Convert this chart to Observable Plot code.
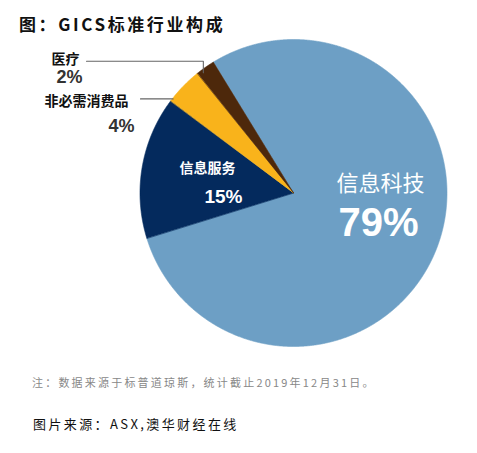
<!DOCTYPE html>
<html><head><meta charset="utf-8">
<script src="https://cdn.jsdelivr.net/npm/d3@7"></script>
<script src="https://cdn.jsdelivr.net/npm/@observablehq/plot@0.6"></script>
<style>
body{margin:0;background:#fff;width:477px;height:453px;position:relative;overflow:hidden;font-family:"Noto Sans CJK SC",sans-serif}
#title{position:absolute;left:19px;top:15px;font-size:17px;line-height:1;font-weight:700;letter-spacing:2.6px;color:#111}
#chart{position:absolute;left:0;top:35px}
#note{position:absolute;left:32px;top:377px;font-size:11px;line-height:1;color:#888;letter-spacing:2.2px}
#src{position:absolute;left:33px;top:417px;font-size:13px;line-height:1;color:#111;letter-spacing:2.4px}
g[aria-label="cjk-big"] text{letter-spacing:3px}
g[aria-label="cjk-in"] text{letter-spacing:2.7px}
g[aria-label="cjk-out"] text{letter-spacing:3.2px}
</style></head><body>
<div id="title">图：GICS标准行业构成</div>
<div id="chart"></div>
<div id="note">注：数据来源于标普道琼斯，统计截止2019年12月31日。</div>
<div id="src">图片来源：ASX,澳华财经在线</div>
<script>
// ---- data ----
const categories = ["信息科技", "信息服务", "非必需消费品", "医疗"];
const shares = [79, 15, 4, 2];
const pctLabels = ["79%", "15%", "4%", "2%"];
const colors = ["#6d9fc5", "#042a5d", "#f9b31b", "#4d280b"];

// ---- layout (not data) ----
const W = 477, H = 325;
const R = 153.5;               // pie radius in scale units (1 unit = 1px)
const START = -31.5;           // start angle (deg, clockwise from north)
const namePos = [[86.5, 10], [-86.5, 25], [-207.5, 92], [-228.5, 134]];
const pctPos = [[84.5, -29.5], [-70.5, -3], [-172.5, 67], [-224.5, 116]];
const leaderLevel = 132.3;

const total = d3.sum(shares);
let acc = 0;
const slices = categories.map((name, i) => {
  const a0 = START + acc / total * 360;
  acc += shares[i];
  const a1 = START + acc / total * 360;
  return {name, a0, a1, i};
});
const rad = a => a * Math.PI / 180;
const polar = (a, r) => ({x: r * Math.sin(rad(a)), y: r * Math.cos(rad(a))});

const arcPts = [];
for (const s of slices) {
  const n = Math.max(2, Math.ceil((s.a1 - s.a0) / 0.25));
  for (let k = 0; k <= n; k++) {
    const p = polar(s.a0 + (s.a1 - s.a0) * k / n, R);
    arcPts.push({name: s.name, x: p.x, y: p.y});
  }
}

// leader lines for the two small outside slices
const leaders = [];
{
  const s = slices[3];              // 医疗
  const p = polar(s.a0 + (s.a1 - s.a0) * 0.25, R - 2.5);
  leaders.push({k: 0, x: p.x, y: p.y}, {k: 0, x: p.x, y: leaderLevel}, {k: 0, x: namePos[3][0] + 21, y: leaderLevel});
}
{
  const s = slices[2];              // 非必需消费品
  const p = polar(s.a0 + (s.a1 - s.a0) * 0.08, R);
  leaders.push({k: 1, x: p.x, y: p.y}, {k: 1, x: namePos[2][0] + 54, y: p.y});
}

const lbl = (idx) => idx.map(i => ({name: categories[i], pct: pctLabels[i],
  nx: namePos[i][0], ny: namePos[i][1], px: pctPos[i][0], py: pctPos[i][1]}));

const sansCJK = "Noto Sans CJK SC";
const latin = "Liberation Sans, Arial, sans-serif";

const plot = Plot.plot({
  width: W, height: H,
  margin: 0,
  x: {domain: [-293.5, W - 293.5], axis: null},
  y: {domain: [-(H - 158), 158], axis: null},
  color: {domain: categories, range: colors},
  style: {background: "transparent"},
  marks: [
    Plot.area(arcPts, {x1: "x", y1: "y", x2: 0, y2: 0, z: "name", fill: "name", stroke: "name", strokeWidth: 0.6, curve: "linear"}),
    Plot.line(leaders, {x: "x", y: "y", z: "k", stroke: "#666", strokeWidth: 1.1}),
    Plot.text(lbl([0]), {x: "nx", y: "ny", text: "name", fill: "white", fontSize: 22, fontFamily: sansCJK, fontWeight: 400, ariaLabel: "cjk-big"}),
    Plot.text(lbl([1]), {x: "nx", y: "ny", text: "name", fill: "white", fontSize: 14, fontFamily: sansCJK, fontWeight: 700, ariaLabel: "cjk-in"}),
    Plot.text(lbl([2, 3]), {x: "nx", y: "ny", text: "name", fill: "#111", fontSize: 14, fontFamily: sansCJK, fontWeight: 700, ariaLabel: "cjk-out"}),
    Plot.text(lbl([0]), {x: "px", y: "py", text: "pct", fill: "white", fontSize: 40, fontFamily: latin, fontWeight: 700}),
    Plot.text(lbl([1]), {x: "px", y: "py", text: "pct", fill: "white", fontSize: 19, fontFamily: latin, fontWeight: 700}),
    Plot.text(lbl([2, 3]), {x: "px", y: "py", text: "pct", fill: "#333", fontSize: 18, fontFamily: latin, fontWeight: 700})
  ]
});
document.getElementById("chart").appendChild(plot);
</script>
</body></html>
